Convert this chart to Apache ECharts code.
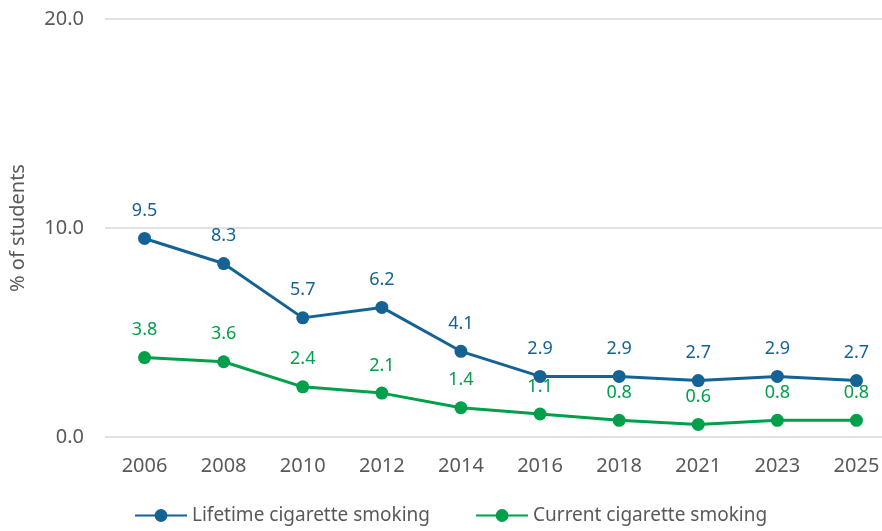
<!DOCTYPE html>
<html>
<head>
<meta charset="utf-8">
<script src="https://cdn.jsdelivr.net/npm/echarts@6/dist/echarts.min.js"></script>
<style>
html,body{margin:0;padding:0;background:#fff;}
#chart{width:882px;height:531px;}
</style>
</head>
<body>
<div id="chart"></div>
<script>
const years = ['2006','2008','2010','2012','2014','2016','2018','2021','2023','2025'];
const lifetime = [9.5, 8.3, 5.7, 6.2, 4.1, 2.9, 2.9, 2.7, 2.9, 2.7];
const current = [3.8, 3.6, 2.4, 2.1, 1.4, 1.1, 0.8, 0.6, 0.8, 0.8];
const seriesNames = ['Lifetime cigarette smoking', 'Current cigarette smoking'];
const yAxisTitle = '% of students';

const blue = '#156394';
const green = '#00a04b';
const font = 'Noto Sans';

const chart = echarts.init(document.getElementById('chart'));
function mkSeries(name, data, color) {
  return {
    name: name,
    type: 'line',
    data: data,
    symbol: 'circle',
    symbolSize: 13,
    lineStyle: { color: color, width: 3 },
    itemStyle: { color: color },
    label: {
      show: true,
      position: 'top',
      distance: 12,
      color: color,
      fontFamily: font,
      fontSize: 18,
      formatter: p => p.value.toFixed(1)
    },
    emphasis: { disabled: true },
    animation: false
  };
}
chart.setOption({
  animation: false,
  grid: { left: 105, right: -14, top: 19, bottom: 94, containLabel: false, outerBoundsMode: 'none' },
  xAxis: {
    type: 'category',
    data: years,
    boundaryGap: true,
    axisLine: { show: false },
    axisTick: { show: false },
    axisLabel: { color: '#595959', fontFamily: font, fontSize: 20, margin: 19 }
  },
  yAxis: {
    type: 'value',
    min: 0, max: 20, interval: 10,
    name: yAxisTitle,
    nameLocation: 'middle',
    nameGap: 77,
    nameTextStyle: { color: '#595959', fontFamily: font, fontSize: 20 },
    axisLine: { show: false },
    axisTick: { show: false },
    axisLabel: { color: '#595959', fontFamily: font, fontSize: 20, margin: 21, formatter: v => v.toFixed(1) },
    splitLine: { lineStyle: { color: '#d9d9d9', width: 1.5 } }
  },
  legend: {
    bottom: 1,
    left: 129,
    itemWidth: 52,
    itemHeight: 16,
    itemGap: 45,
    textStyle: { color: '#595959', fontFamily: font, fontSize: 19 },
    data: seriesNames
  },
  series: [
    mkSeries(seriesNames[0], lifetime, blue),
    mkSeries(seriesNames[1], current, green)
  ]
});
</script>
</body>
</html>
